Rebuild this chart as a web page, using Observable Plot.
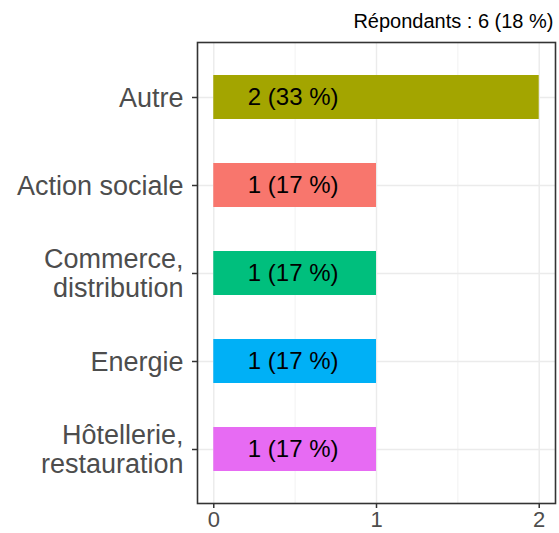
<!DOCTYPE html>
<html>
<head>
<meta charset="utf-8">
<script src="https://cdn.jsdelivr.net/npm/d3@7"></script>
<script src="https://cdn.jsdelivr.net/npm/@observablehq/plot@0.6"></script>
<style>
  html, body { margin: 0; padding: 0; background: #fff; }
  svg { display: block; }
</style>
</head>
<body>
<div id="chart"></div>
<script>
const categories = ["Autre", "Action sociale", "Commerce, distribution", "Energie", "Hôtellerie, restauration"];
const tickLabels = ["Autre", "Action sociale", "Commerce,\ndistribution", "Energie", "Hôtellerie,\nrestauration"];
const counts = [2, 1, 1, 1, 1];
const percents = [33, 17, 17, 17, 17];
const colors = ["#A3A500", "#F8766D", "#00BF7D", "#00B0F6", "#E76BF3"];
const subtitle = "Répondants : 6 (18 %)";
const xTicks = [0, 1, 2];
const xMinor = [0.5, 1.5];

const data = categories.map((c, i) => ({
  cat: c,
  n: counts[i],
  label: `${counts[i]} (${percents[i]} %)`,
  color: colors[i]
}));
const labelMap = new Map(categories.map((c, i) => [c, tickLabels[i]]));

const chart = Plot.plot({
  width: 559,
  height: 533,
  marginLeft: 197,
  marginRight: 4,
  marginTop: 42,
  marginBottom: 30,
  style: { fontFamily: "'Liberation Sans', Arial, sans-serif", background: "#fff" },
  x: { domain: [-0.1, 2.1] },
  y: { type: "band", domain: categories, paddingInner: 0.5, paddingOuter: 0.35 },
  marks: [
    Plot.ruleX(xMinor, { stroke: "#ebebeb", strokeWidth: 0.7 }),
    Plot.ruleX(xTicks, { stroke: "#ebebeb", strokeWidth: 1.4 }),
    Plot.gridY({ stroke: "#ebebeb", strokeOpacity: 1, strokeWidth: 1.4 }),
    Plot.barX(data, { x: "n", y: "cat", fill: "color" }),
    Plot.text(data, { x: 0.5, y: "cat", text: "label", fill: "#000", fontSize: 24, textAnchor: "middle", dx: -2 }),
    Plot.frame({ stroke: "#333", strokeWidth: 1.6 }),
    Plot.axisY({
      tickSize: 5, tickPadding: 9, stroke: "#333", strokeWidth: 1.5, fill: "#4d4d4d",
      fontSize: 27, lineHeight: 1.04, tickFormat: d => labelMap.get(d), label: null
    }),
    Plot.axisX({
      ticks: xTicks, tickFormat: d3.format("d"), tickSize: 5, tickPadding: 3, stroke: "#333", strokeWidth: 1.5, fill: "#4d4d4d",
      fontSize: 22, label: null
    }),
    Plot.text([subtitle], { frameAnchor: "top-right", dx: -2, dy: -21, textAnchor: "end", lineAnchor: "middle", fontSize: 20, fill: "#000" })
  ]
});
document.getElementById("chart").appendChild(chart);
</script>
</body>
</html>
